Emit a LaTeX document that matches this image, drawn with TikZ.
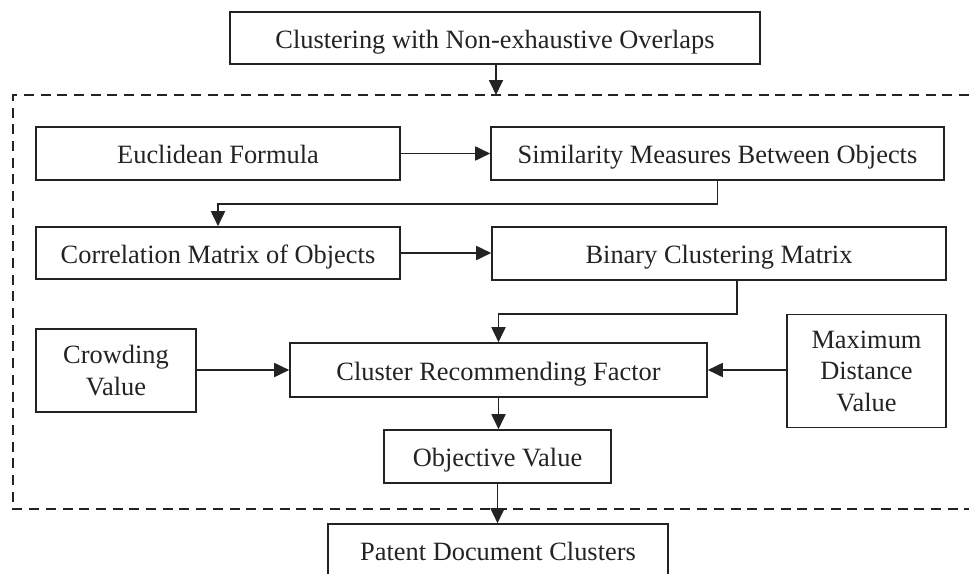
\documentclass[tikz,border=0pt]{standalone}
\usepackage{fontspec}
\setmainfont{Liberation Serif}
\usetikzlibrary{arrows.meta}
\definecolor{ink}{RGB}{35,35,35}
\tikzset{
  stage/.style={draw=ink, line width=1.6pt, text=ink, inner sep=0pt, align=center,
    font=\fontsize{26.4}{31.5}\selectfont},
  oneline/.style={stage, text height=20pt, text depth=0pt},
  flow/.style={draw=ink, line width=1.8pt, -{Triangle[length=15pt,width=14pt]}},
  frame/.style={draw=ink, line width=1.4pt, dash pattern=on 10pt off 6.7pt},
}
\begin{document}
\begin{tikzpicture}[x=1pt, y=-1pt]
\useasboundingbox (0,0) rectangle (969,573);
\fill[white] (0,0) rectangle (969,573);

% dashed frame, open on the right
\draw[frame] (969,95) -- (13,95) -- (13,509) -- (969,509);
\coordinate (ftop) at (496,95);

% stages
\node[oneline, minimum width=530pt, minimum height=52pt] (top) at (495,38) {Clustering with Non-exhaustive Overlaps};
\node[oneline, minimum width=364pt, minimum height=53pt] (euc) at (218,153.5) {Euclidean Formula};
\node[oneline, minimum width=453pt, minimum height=53pt] (sim) at (717.5,153.5) {Similarity Measures Between Objects};
\node[oneline, minimum width=364pt, minimum height=52pt] (cor) at (218,253) {Correlation Matrix of Objects};
\node[oneline, minimum width=454pt, minimum height=53pt] (bin) at (719,253.5) {Binary Clustering Matrix};
\node[stage, minimum width=160pt, minimum height=83pt] (crow) at (116,370.5) {Crowding\\Value};
\node[oneline, minimum width=417pt, minimum height=54pt] (crf) at (498.5,370) {Cluster Recommending Factor};
\node[stage, minimum width=159pt, minimum height=113pt] (max) at (866.5,371) {Maximum\\Distance\\Value};
\node[oneline, minimum width=227pt, minimum height=53pt] (obj) at (497.5,456.5) {Objective Value};
\node[oneline, minimum width=340pt, minimum height=52pt] (pat) at (498,550) {Patent Document Clusters};

% connectors
\draw[flow] (top.south -| ftop) -- (ftop);
\draw[flow] (euc.east) -- (sim.west |- euc.east);
\draw[flow] (sim.south) -- ++(0,23) -| (cor.north);
\draw[flow] (cor.east) -- (bin.west |- cor.east);
\draw[flow] ([xshift=18pt]bin.south) -- ++(0,33) -| (crf.north);
\draw[flow] (crow.east |- crf.west) -- (crf.west);
\draw[flow] (max.west |- crf.east) -- (crf.east);
\draw[flow] (crf.south) -- (obj.north -| crf.south);
\draw[flow] (obj.south) -- (pat.north -| obj.south);
\end{tikzpicture}
\end{document}
